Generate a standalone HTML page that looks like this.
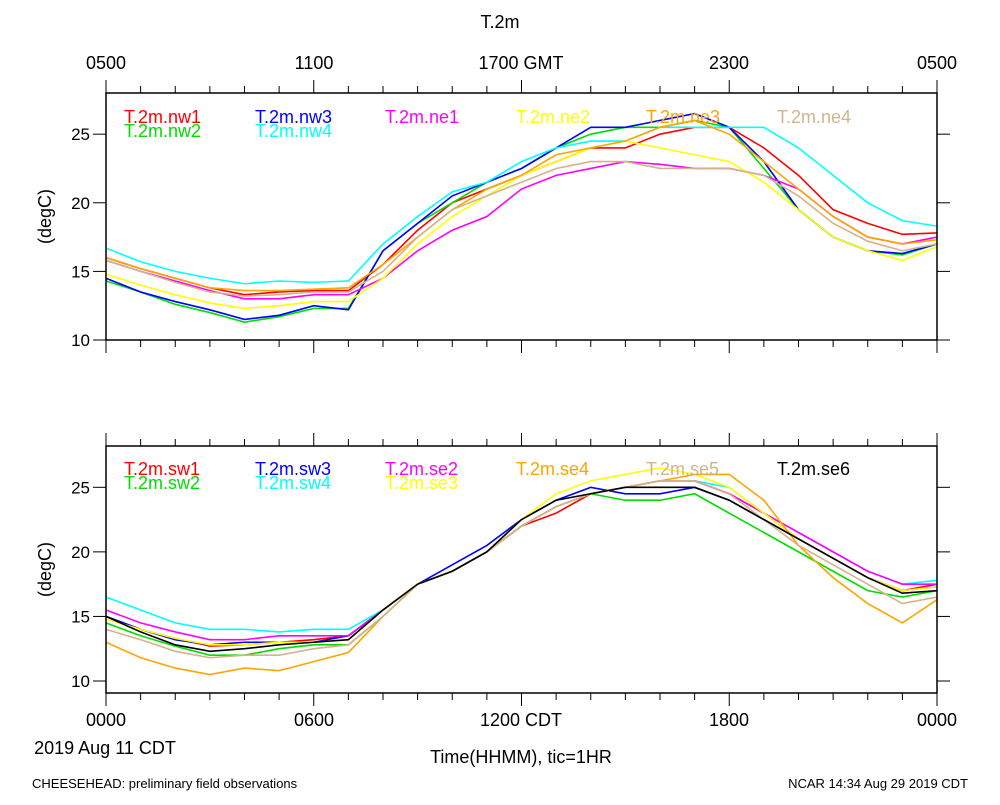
<!DOCTYPE html>
<html><head><meta charset="utf-8"><style>
body{margin:0;background:#fff}
svg text{font-family:"Liberation Sans",sans-serif}
</style></head><body>
<svg id="chart" width="1000" height="800" xmlns="http://www.w3.org/2000/svg">
<text x="500" y="28" font-size="18" text-anchor="middle">T.2m</text>
<g font-size="18" text-anchor="middle">
<text x="106" y="69">0500</text><text x="314" y="69">1100</text><text x="521" y="69">1700 GMT</text><text x="729" y="69">2300</text><text x="937" y="69">0500</text>
</g>
<g font-size="18" text-anchor="middle">
<text x="106" y="726">0000</text><text x="314" y="726">0600</text><text x="521" y="726">1200 CDT</text><text x="729" y="726">1800</text><text x="937" y="726">0000</text>
</g>
<text x="105" y="754" font-size="18" text-anchor="middle">2019 Aug 11 CDT</text>
<text x="521" y="763" font-size="18" text-anchor="middle">Time(HHMM), tic=1HR</text>
<text x="32" y="788" font-size="13">CHEESEHEAD: preliminary field observations</text>
<text x="968" y="788" font-size="13" text-anchor="end">NCAR 14:34 Aug 29 2019 CDT</text>
<g id="top"></g>
<g id="bot"></g>
</svg>
<script>
const hours = [0,1,2,3,4,5,6,7,8,9,10,11,12,13,14,15,16,17,18,19,20,21,22,23,24];
const yTicks = [10,15,20,25];
const topNames = ["T.2m.nw1","T.2m.nw2","T.2m.nw3","T.2m.nw4","T.2m.ne1","T.2m.ne2","T.2m.ne3","T.2m.ne4"];
const nw1 = [16,15.2,14.5,13.8,13.3,13.5,13.6,13.6,15.5,18,20,21,22,23,24,24,25,25.5,25.5,24,22,19.5,18.5,17.7,17.8];
const nw2 = [14.3,13.5,12.6,12,11.3,11.7,12.3,12.3,16.5,18.5,20,21.5,22.5,24,25,25.5,25.5,26,25.5,22.5,19.5,17.5,16.5,16.2,17];
const nw3 = [14.5,13.5,12.8,12.2,11.5,11.8,12.5,12.2,16.5,18.5,20.5,21.5,22.5,24,25.5,25.5,26,26.5,25.5,23,19.5,17.5,16.5,16.3,17];
const nw4 = [16.7,15.7,15,14.5,14.1,14.3,14.2,14.3,17,19,20.8,21.5,23,24,24.5,24.5,25.5,25.5,25.5,25.5,24,22,20,18.7,18.3];
const ne1 = [15.8,15,14.3,13.6,13,13,13.3,13.3,14.5,16.5,18,19,21,22,22.5,23,22.8,22.5,22.5,22,21,19,17.5,17,17.5];
const ne2 = [14.8,14,13.3,12.7,12.3,12.5,12.8,12.8,14.5,17,19,20.5,22,23,24,24.5,24,23.5,23,21.5,19.5,17.5,16.5,15.8,16.8];
const ne3 = [16,15.2,14.5,13.8,13.6,13.6,13.7,13.8,15.5,17.5,19.5,21,22,23.5,24,24.5,25.5,26,25,23,21,19,17.5,17,17.3];
const ne4 = [15.8,15,14.2,13.5,13.2,13.3,13.5,13.5,15,17.5,19.5,20.5,21.5,22.5,23,23,22.5,22.5,22.5,22,20.5,18.5,17.2,16.5,17];
const botNames = ["T.2m.sw1","T.2m.sw2","T.2m.sw3","T.2m.sw4","T.2m.se2","T.2m.se3","T.2m.se4","T.2m.se5","T.2m.se6"];
const sw1 = [15,14,13.3,12.7,12.8,13,13.2,13.5,15.5,17.5,18.5,20,22,23,24.5,25,25.5,25.5,24.5,23,21,19.5,18,17,17.5];
const sw2 = [14.5,13.5,12.7,12,12,12.5,12.8,12.8,15,17.5,18.5,20,22,23.5,24.5,24,24,24.5,23,21.5,20,18.5,17,16.5,17];
const sw3 = [15,14,13.2,12.8,13,13,13,13.5,15.5,17.5,19,20.5,22.5,24,25,24.5,24.5,25,24,22.5,21,19.5,18,17,17.3];
const sw4 = [16.5,15.5,14.5,14,14,13.8,14,14,15.5,17.5,18.5,20,22,23.5,24.5,25,25.5,25.5,25,23,21.5,20,18.5,17.5,17.8];
const se2 = [15.5,14.5,13.8,13.2,13.2,13.5,13.5,13.5,15.5,17.5,18.5,20,22,23.5,24.5,25,25.5,25.5,24.5,23,21.5,20,18.5,17.5,17.5];
const se3 = [14.8,14,13.3,12.8,12.8,13,13,13.2,15.5,17.5,18.5,20,22.5,24.5,25.5,26,26.5,26,25,23,21,19.5,18,17,17.3];
const se4 = [13,11.8,11,10.5,11,10.8,11.5,12.2,15,17.5,18.5,20,22,23.5,24.5,25,25.5,26,26,24,20.5,18,16,14.5,16.3];
const se5 = [14,13.2,12.3,11.8,12,12,12.5,12.8,15,17.5,18.5,20,22,23.5,24.5,25,25.5,25.5,24.5,22.5,20.5,19,17.5,16,16.5];
const se6 = [15,13.8,12.8,12.3,12.5,12.8,13,13.2,15.5,17.5,18.5,20,22.5,24,24.5,25,25,25,24,22.5,21,19.5,18,16.8,17];

const NS="http://www.w3.org/2000/svg";
function mk(tag,attrs,parent){const e=document.createElementNS(NS,tag);for(const k in attrs)e.setAttribute(k,attrs[k]);parent.appendChild(e);return e;}
const X0=106,X1=937;
const xs=h=>X0+(X1-X0)*h/24;

function panel(g,top,bottom,ymin,ymax,series,names,colors,legendPos,pname){
  const ys=v=>bottom-(v-ymin)/(ymax-ymin)*(bottom-top);
  series.forEach((s,i)=>{
    const p=mk('polyline',{points:s.map((v,j)=>xs(hours[j])+','+ys(v)).join(' '),fill:'none',stroke:colors[i],'stroke-width':1.6},g);
    
    
  });
  const f=mk('rect',{x:X0,y:top,width:X1-X0,height:bottom-top,fill:'none',stroke:'#000','stroke-width':1.5},g);
  
  
  for(let h=0;h<=24;h++){
    const big=h%6===0;
    mk('line',{x1:xs(h),x2:xs(h),y1:top,y2:top-(big?13:7),stroke:'#000'},g);
    mk('line',{x1:xs(h),x2:xs(h),y1:bottom,y2:bottom+(big?13:7),stroke:'#000'},g);
  }
  yTicks.forEach(t=>{
    const y=ys(t);
    mk('line',{x1:X0-13,x2:X0,y1:y,y2:y,stroke:'#000'},g);
    mk('line',{x1:X1,x2:X1+13,y1:y,y2:y,stroke:'#000'},g);
    const tx=mk('text',{x:90,y:y+6,'font-size':17,'text-anchor':'end'},g);tx.textContent=t;
    
    
  });
  const yl=mk('text',{x:0,y:0,'font-size':18,'text-anchor':'middle',transform:`translate(51,${(top+bottom)/2}) rotate(-90)`},g);
  yl.textContent='(degC)';
  
  
  names.forEach((n,i)=>{
    const t=mk('text',{x:legendPos[i][0],y:legendPos[i][1],'font-size':18,fill:colors[i]},g);
    t.textContent=n;
    
    
  });
}
panel(document.getElementById('top'),93,340,10,28,[nw1,nw2,nw3,nw4,ne1,ne2,ne3,ne4],topNames,
 ['#ff0000','#00dd00','#0000ff','#00ffff','#ff00ff','#ffff00','#ffa500','#d2b48c'],
 [[124,123],[124,137],[255,123],[255,137],[385,123],[516,123],[646,123],[777,123]],'top');
panel(document.getElementById('bot'),446,693,9.07,28.2,[sw1,sw2,sw3,sw4,se2,se3,se4,se5,se6],botNames,
 ['#ff0000','#00dd00','#0000ff','#00ffff','#ff00ff','#ffff00','#ffa500','#d2b48c','#000000'],
 [[124,475],[124,489],[255,475],[255,489],[385,475],[385,489],[516,475],[646,475],[777,475]],'bottom');
</script>
</body></html>
